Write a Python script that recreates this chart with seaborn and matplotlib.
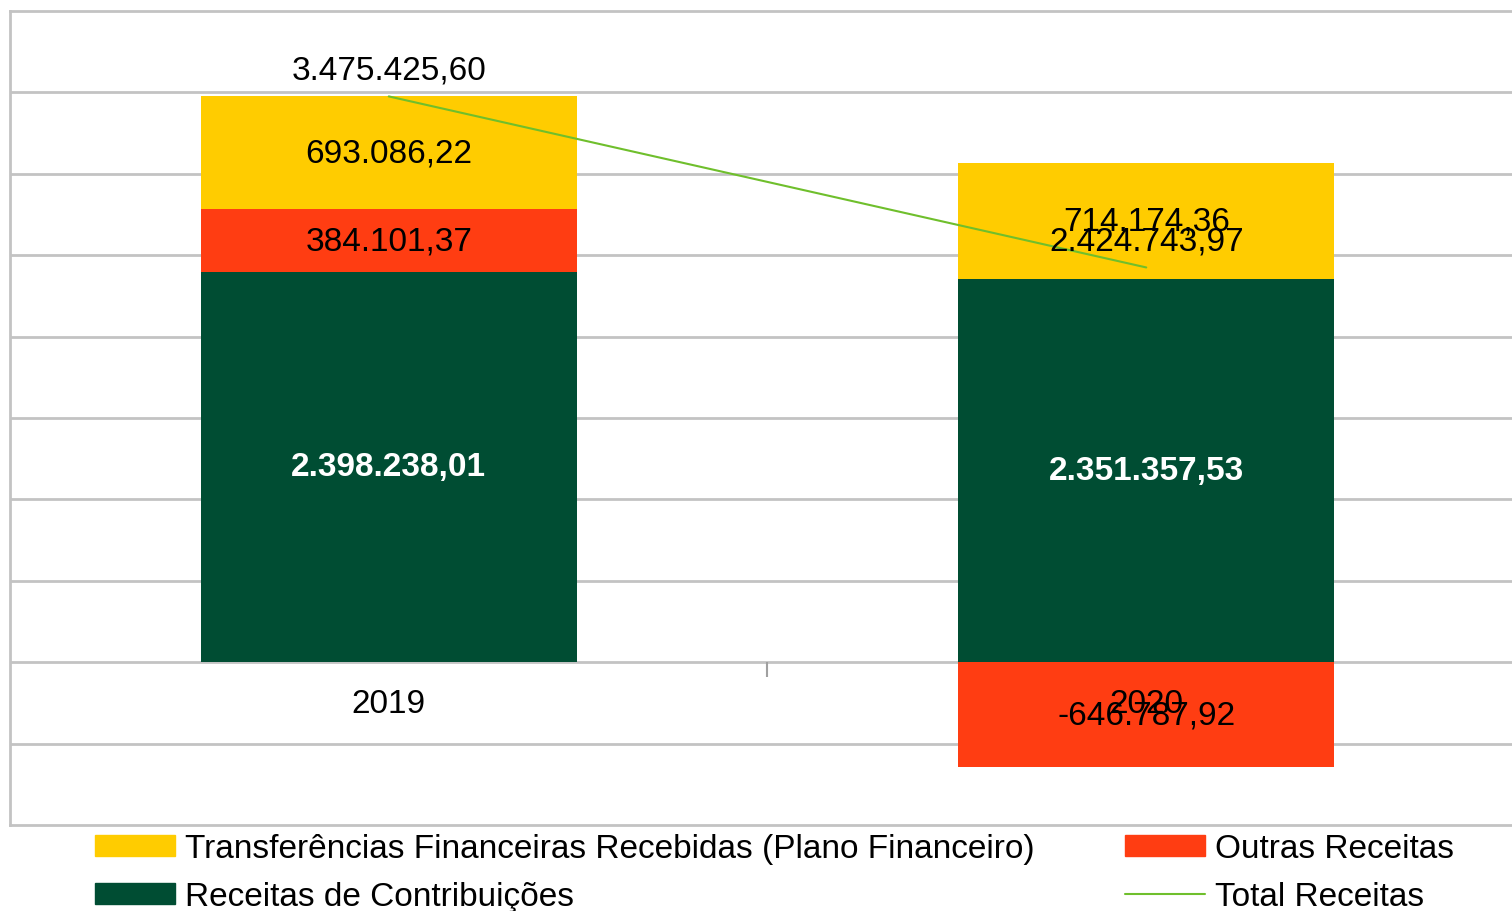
import numpy as np
import pandas as pd
import matplotlib
matplotlib.use("Agg")
import matplotlib.pyplot as plt
import seaborn as sns
from matplotlib.patches import Patch
from matplotlib.lines import Line2D

years = ["2019", "2020"]
contribuicoes = [2398238.01, 2351357.53]
outras = [384101.37, -646787.92]
transferencias = [693086.22, 714174.36]
total = [3475425.60, 2424743.97]

series_names = ["Receitas de Contribuições", "Outras Receitas",
                "Transferências Financeiras Recebidas (Plano Financeiro)"]
series_vals = [contribuicoes, outras, transferencias]
series_colors = ["#004D33", "#FF3D12", "#FFCC00"]
line_color = "#6FBF2C"
grid_color = "#C3C3C3"

sns.set_theme(style="white")
FONT = ["Liberation Sans", "DejaVu Sans"]
plt.rcParams["font.family"] = FONT
plt.rcParams["text.color"] = "black"
FS = 24


def br(v):
    s = f"{v:,.2f}"
    return s.replace(",", "X").replace(".", ",").replace("X", ".")


# stack: positives upward, negatives downward from zero
pos = np.zeros(len(years))
neg = np.zeros(len(years))
bottoms, tops = [], []
for vals in series_vals:
    v = np.array(vals)
    b = np.where(v >= 0, pos, neg)
    bottoms.append(b)
    tops.append(b + v)
    pos = np.where(v >= 0, pos + v, pos)
    neg = np.where(v < 0, neg + v, neg)

fig = plt.figure(figsize=(15.12, 9.12), dpi=100)
ax = fig.add_axes([10 / 1512, 1 - 826 / 912, 1515 / 1512, 814 / 912])

# draw from the top layer down so lower layers cover the overlap
for i in reversed(range(len(series_vals))):
    df = pd.DataFrame({"ano": years, "topo": tops[i]})
    sns.barplot(data=df, x="ano", y="topo", color=series_colors[i], saturation=1,
                width=0.496, linewidth=0, errorbar=None, ax=ax, zorder=2)

sns.lineplot(x=[0, 1], y=total, color=line_color, linewidth=1.5, ax=ax, zorder=3)

# segment labels
for i, vals in enumerate(series_vals):
    for j, v in enumerate(vals):
        yc = bottoms[i][j] + v / 2
        if i == 0:
            ax.text(j, yc, br(v), ha="center", va="center", fontsize=FS,
                    color="white", fontweight="bold", zorder=5)
        else:
            ax.text(j, yc, br(v), ha="center", va="center", fontsize=FS,
                    color="black", zorder=5)

for j, v in enumerate(total):
    ax.annotate(br(v), (j, v), xytext=(0, 19), textcoords="offset points",
                ha="center", va="center", fontsize=FS, color="black", zorder=6)

ax.set_ylim(-1_000_000, 4_000_000)
ax.set_xlim(-0.5, 1.5)
ax.set_yticks(np.arange(-500_000, 4_000_000, 500_000))
ax.yaxis.grid(True, color=grid_color, linewidth=2, zorder=0)
ax.set_axisbelow(True)
ax.tick_params(left=False, bottom=False, labelleft=False, labelbottom=False)
ax.set_xlabel("")
ax.set_ylabel("")
for sp in ["left", "top", "bottom"]:
    ax.spines[sp].set_color(grid_color)
    ax.spines[sp].set_linewidth(2)
ax.spines["right"].set_visible(False)

# category axis sits on the zero line
sec = ax.secondary_xaxis(0.2)
sec.set_xticks([0, 1], labels=years)
sec.set_xticks([0.5], minor=True)
sec.tick_params(axis="x", which="major", length=0, pad=18.5, labelsize=FS, labelcolor="black")
sec.tick_params(axis="x", which="minor", length=11, width=1.5, color="#A0A0A0")
for lbl in sec.get_xticklabels():
    lbl.set_family(FONT)
sec.spines["bottom"].set_visible(False)
sec.set_zorder(5)

handles = [
    Patch(color=series_colors[2], label=series_names[2]),
    Patch(color=series_colors[0], label=series_names[0]),
    Patch(color=series_colors[1], label=series_names[1]),
    Line2D([0], [0], color=line_color, linewidth=1.5, label="Total Receitas"),
]
fig.legend(handles=handles, ncol=2, loc="lower left", bbox_to_anchor=(65 / 1512, -0.034),
           frameon=False, fontsize=FS, labelcolor="black", handlelength=2.4,
           handleheight=0.6, handletextpad=0.3, columnspacing=2.7, labelspacing=0.5)

fig.savefig("out.png", dpi=100)
